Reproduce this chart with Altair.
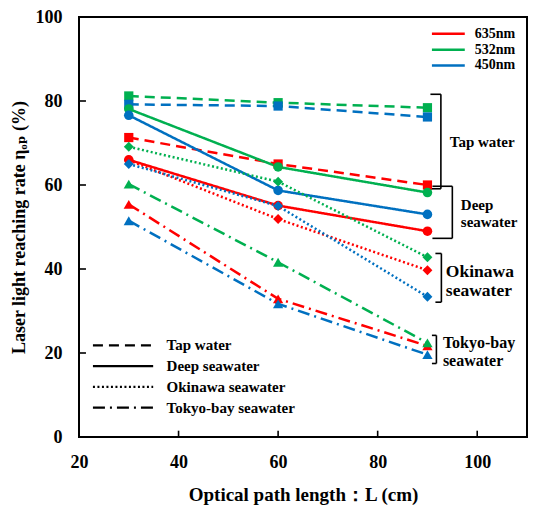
import altair as alt
import pandas as pd

FONT = "'Liberation Serif', 'DejaVu Serif', serif"

lengths = [30, 60, 90]
waters = ["Tap water", "Deep seawater", "Okinawa seawater", "Tokyo-bay seawater"]
wavelengths = ["635nm", "532nm", "450nm"]
colors = ["#ff0000", "#00b050", "#0070c0"]

tap_635 = [71.3, 65.0, 60.0]
tap_532 = [81.2, 79.6, 78.4]
tap_450 = [79.2, 78.8, 76.2]
deep_635 = [66.0, 55.1, 49.0]
deep_532 = [78.1, 64.3, 58.2]
deep_450 = [76.6, 58.7, 53.0]
oki_635 = [65.9, 51.9, 39.7]
oki_532 = [69.1, 60.8, 42.8]
oki_450 = [65.0, 55.0, 33.4]
tokyo_635 = [55.4, 32.9, 21.7]
tokyo_532 = [60.2, 41.6, 22.4]
tokyo_450 = [51.5, 31.7, 19.6]

x_ticks = [20, 40, 60, 80, 100]
y_ticks = [0, 20, 40, 60, 80, 100]

series = {
    ("Tap water", "635nm"): tap_635,
    ("Tap water", "532nm"): tap_532,
    ("Tap water", "450nm"): tap_450,
    ("Deep seawater", "635nm"): deep_635,
    ("Deep seawater", "532nm"): deep_532,
    ("Deep seawater", "450nm"): deep_450,
    ("Okinawa seawater", "635nm"): oki_635,
    ("Okinawa seawater", "532nm"): oki_532,
    ("Okinawa seawater", "450nm"): oki_450,
    ("Tokyo-bay seawater", "635nm"): tokyo_635,
    ("Tokyo-bay seawater", "532nm"): tokyo_532,
    ("Tokyo-bay seawater", "450nm"): tokyo_450,
}

rows = []
for (w, wl), vals in series.items():
    for L, v in zip(lengths, vals):
        rows.append({"water": w, "wl": wl, "L": L, "rate": v})
df = pd.DataFrame(rows)

# bracket annotations (data units): vertical x, top, bottom, left end of serifs
br_names = ["Tap water", "Deep seawater", "Okinawa seawater", "Tokyo-bay seawater"]
br_x = [92.7, 95.0, 92.8, 91.8]
br_top = [81.6, 59.7, 43.7, 24.2]
br_bot = [59.1, 47.3, 32.1, 17.5]
br_serif = [90.6, 91.0, 91.6, 90.9]

seg = []
for n, bx, t, b, s in zip(br_names, br_x, br_top, br_bot, br_serif):
    seg.append({"x": bx, "x2": bx, "y": t, "y2": b})
    seg.append({"x": s, "x2": bx, "y": t, "y2": t})
    seg.append({"x": s, "x2": bx, "y": b, "y2": b})
seg_df = pd.DataFrame(seg)

lab_text = ["Tap water", "Deep", "seawater", "Okinawa", "seawater", "Tokyo-bay", "seawater"]
lab_x = [101.0, 96.7, 96.7, 93.7, 93.7, 93.1, 93.1]
lab_y = [70.3, 55.3, 51.3, 39.3, 34.7, 22.3, 18.1]
lab_size = [15, 15, 15, 17.5, 17.5, 16, 16]
lab_align = ["center", "left", "left", "left", "left", "left", "left"]
lab_df = pd.DataFrame({"t": lab_text, "x": lab_x, "y": lab_y, "s": lab_size, "a": lab_align})

xs = alt.Scale(domain=[20, 110], nice=False, zero=False)
ys = alt.Scale(domain=[0, 100], nice=False, zero=False)
cs = alt.Scale(domain=wavelengths, range=colors)
ds = alt.Scale(domain=waters, range=[[10, 6], [1, 0], [2, 2.5], [12, 5, 2, 5]])
ss = alt.Scale(domain=waters, range=["square", "circle", "diamond", "triangle-up"])
zs = alt.Scale(domain=waters, range=[85, 105, 60, 75])

X = alt.X("L:Q", scale=xs, axis=alt.Axis(
    values=x_ticks, title="Optical path length：L (cm)", format="d",
    titleY=63, titleBaseline="alphabetic", titleFontSize=19))
Y = alt.Y("rate:Q", scale=ys, axis=alt.Axis(
    values=y_ticks, title="Laser light reaching rate ηₒₚ (%)", format="d",
    titleX=-55, titleBaseline="alphabetic"))

lines = alt.Chart(df).mark_line(strokeWidth=2.5).encode(
    x=X, y=Y,
    color=alt.Color("wl:N", scale=cs, legend=None),
    strokeDash=alt.StrokeDash("water:N", scale=ds, legend=None),
)
points = alt.Chart(df).mark_point(filled=True, opacity=1).encode(
    x="L:Q", y="rate:Q",
    color=alt.Color("wl:N", scale=cs, legend=None),
    shape=alt.Shape("water:N", scale=ss, legend=None),
    size=alt.Size("water:N", scale=zs, legend=None),
)

brackets = alt.Chart(seg_df).mark_rule(color="black", strokeWidth=1.6).encode(
    x="x:Q", x2="x2:Q", y="y:Q", y2="y2:Q")

lab_left = alt.Chart(lab_df[lab_df.a == "left"]).mark_text(
    font=FONT, fontWeight="bold", baseline="middle", align="left", color="black").encode(
    x="x:Q", y="y:Q", text="t:N", size=alt.Size("s:Q", scale=None, legend=None))
lab_center = alt.Chart(lab_df[lab_df.a == "center"]).mark_text(
    font=FONT, fontWeight="bold", baseline="middle", align="center", color="black").encode(
    x="x:Q", y="y:Q", text="t:N", size=alt.Size("s:Q", scale=None, legend=None))

# colour key (top right)
ck = pd.DataFrame({"wl": wavelengths, "row": [0, 1, 2]})
ck_base = alt.Chart(ck).transform_calculate(
    lx0="90.9", lx1="97.5", tx="99.5", ly="96.0 - 3.77*datum.row")
ck_lines = ck_base.mark_rule(strokeWidth=2.5).encode(
    x="lx0:Q", x2="lx1:Q", y="ly:Q",
    color=alt.Color("wl:N", scale=cs, legend=None))
ck_text = ck_base.mark_text(font=FONT, fontWeight="bold", fontSize=14, align="left",
                            baseline="middle", color="black").encode(
    x="tx:Q", y="ly:Q", text="wl:N")

# line-style key (bottom left)
dk = pd.DataFrame({"water": waters, "row": [0, 1, 2, 3]})
dk_base = alt.Chart(dk).transform_calculate(
    lx0="22.8", lx1="34.9", tx="37.6", ly="21.8 - 4.93*datum.row")
dk_lines = dk_base.mark_line(strokeWidth=2.2, color="black").encode(
    x="lx:Q", y="ly:Q",
    strokeDash=alt.StrokeDash("water:N", scale=ds, legend=None),
    detail="water:N",
).transform_fold(["lx0", "lx1"], as_=["k", "lx"])
dk_text = dk_base.mark_text(font=FONT, fontWeight="bold", fontSize=15, align="left",
                            baseline="middle", color="black").encode(
    x="tx:Q", y="ly:Q", text="water:N")

# inward tick marks
xt = pd.DataFrame({"v": x_ticks[1:]})
xtick = alt.Chart(xt).transform_calculate(y0="0", y1="1.5").mark_rule(
    color="black", strokeWidth=1.6).encode(x="v:Q", y="y0:Q", y2="y1:Q")
yt = pd.DataFrame({"v": y_ticks[1:-1]})
ytick = alt.Chart(yt).transform_calculate(x0="20", x1="21.4").mark_rule(
    color="black", strokeWidth=1.6).encode(y="v:Q", x="x0:Q", x2="x1:Q")

chart = alt.layer(
    xtick, ytick, brackets, lines, points, lab_left, lab_center,
    ck_lines, ck_text, dk_lines, dk_text
).properties(
    width=448, height=420,
    autosize=alt.AutoSizeParams(type="none"),
    padding={"left": 71, "top": 9, "right": 15, "bottom": 69},
).configure_view(
    stroke="black", strokeWidth=2
).configure_axis(
    grid=False, domain=False, ticks=True, tickSize=0, tickWidth=0, labelFlush=False,
    labelFont=FONT, labelFontWeight="bold", labelFontSize=18, labelColor="black",
    titleFont=FONT, titleFontWeight="bold", titleFontSize=18, titleColor="black",
).configure_axisX(labelPadding=16).configure_axisY(labelPadding=17)

chart.save("out.html", embed_options={"renderer": "svg", "actions": False})
